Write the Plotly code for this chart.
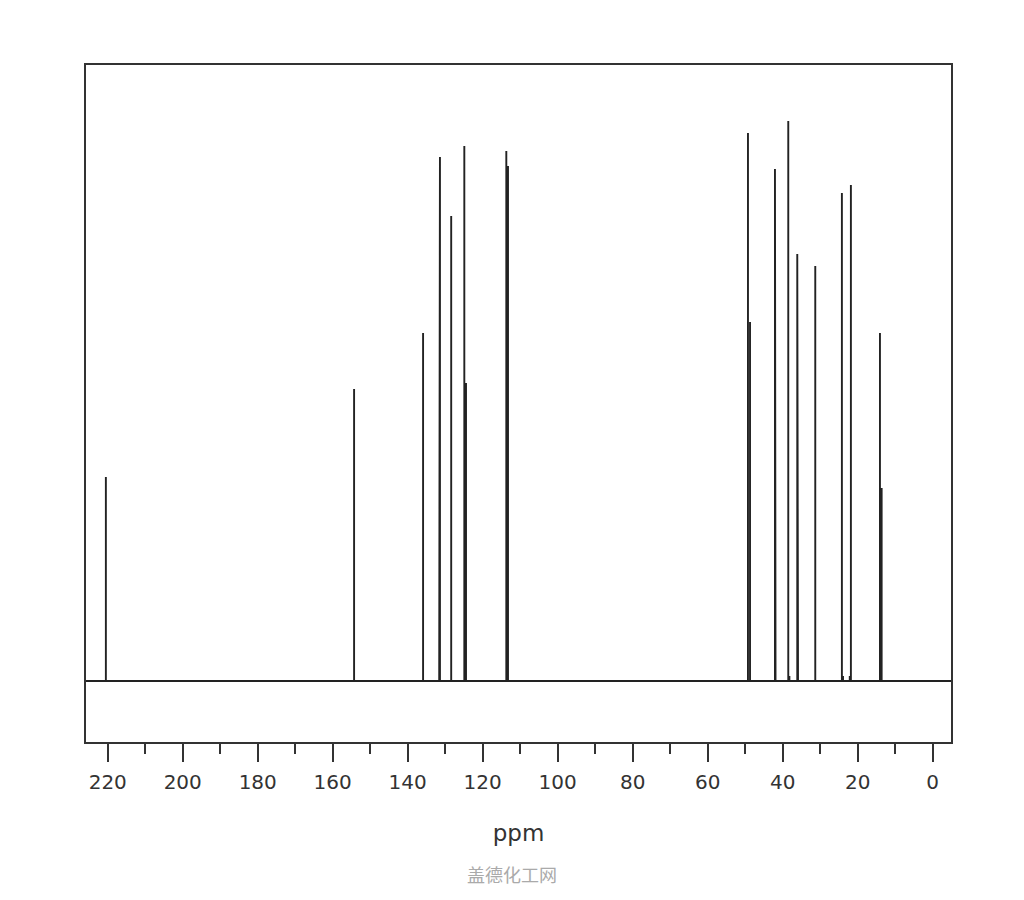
import plotly.graph_objects as go

# Peak positions (ppm) and intensities (arbitrary units)
peak_ppm = [220.5, 154.3, 135.9, 131.6, 131.4, 128.4, 124.9, 124.45, 113.7, 113.25,
            49.25, 48.7, 42.05, 41.9, 38.5, 38.2, 36.1, 35.9, 31.3, 24.2, 23.9, 22.1, 21.8,
            14.05, 13.6]
peak_int = [204, 292, 348, 8, 524, 465, 535, 298, 530, 515,
            548, 359, 512, 38, 560, 5, 427, 32, 415, 488, 5, 5, 496,
            348, 193]

x_range = [225.8, -4.9]
major_ticks = [220, 200, 180, 160, 140, 120, 100, 80, 60, 40, 20, 0]
tick_labels = [str(t) for t in major_ticks]

# build stick spectrum line from peaks
pairs = sorted(zip(peak_ppm, peak_int), key=lambda t: -t[0])
xs = [x_range[0]]
ys = [0]
for p, h in pairs:
    xs += [p, p, p]
    ys += [0, h, 0]
xs.append(x_range[1])
ys.append(0)

fig = go.Figure()
fig.add_trace(go.Scatter(x=xs, y=ys, mode="lines",
                         line=dict(color="#222222", width=1.9),
                         hoverinfo="skip", showlegend=False))

fig.update_layout(
    width=1024, height=900,
    margin=dict(l=78, r=81, t=57, b=166),
    paper_bgcolor="white", plot_bgcolor="white",
    font=dict(family="DejaVu Sans", color="#333333"),
    xaxis=dict(
        range=x_range, autorange=False,
        tickmode="array", tickvals=major_ticks, ticktext=tick_labels,
        ticks="outside", ticklen=18, tickwidth=2, tickcolor="#333333",
        tickfont=dict(size=20, color="#333333"),
        ticklabelstandoff=3,
        minor=dict(dtick=10, tick0=0, ticks="outside", ticklen=10,
                   tickwidth=2, tickcolor="#333333", showgrid=False),
        showgrid=False, zeroline=False,
        showline=True, linecolor="#333333", linewidth=2, mirror=True,
        title=dict(text="ppm", font=dict(size=23, color="#333333"), standoff=32),
    ),
    yaxis=dict(
        range=[-61, 616], autorange=False,
        showticklabels=False, ticks="", showgrid=False, zeroline=False,
        showline=True, linecolor="#333333", linewidth=2, mirror=True,
    ),
    annotations=[dict(text="盖德化工网", xref="paper", yref="paper",
                      x=0.4925, y=-0.195, xanchor="center", yanchor="middle",
                      showarrow=False,
                      font=dict(family="Noto Sans CJK SC", size=18, color="#aaaaaa"))],
)

fig.write_html("out.html")
